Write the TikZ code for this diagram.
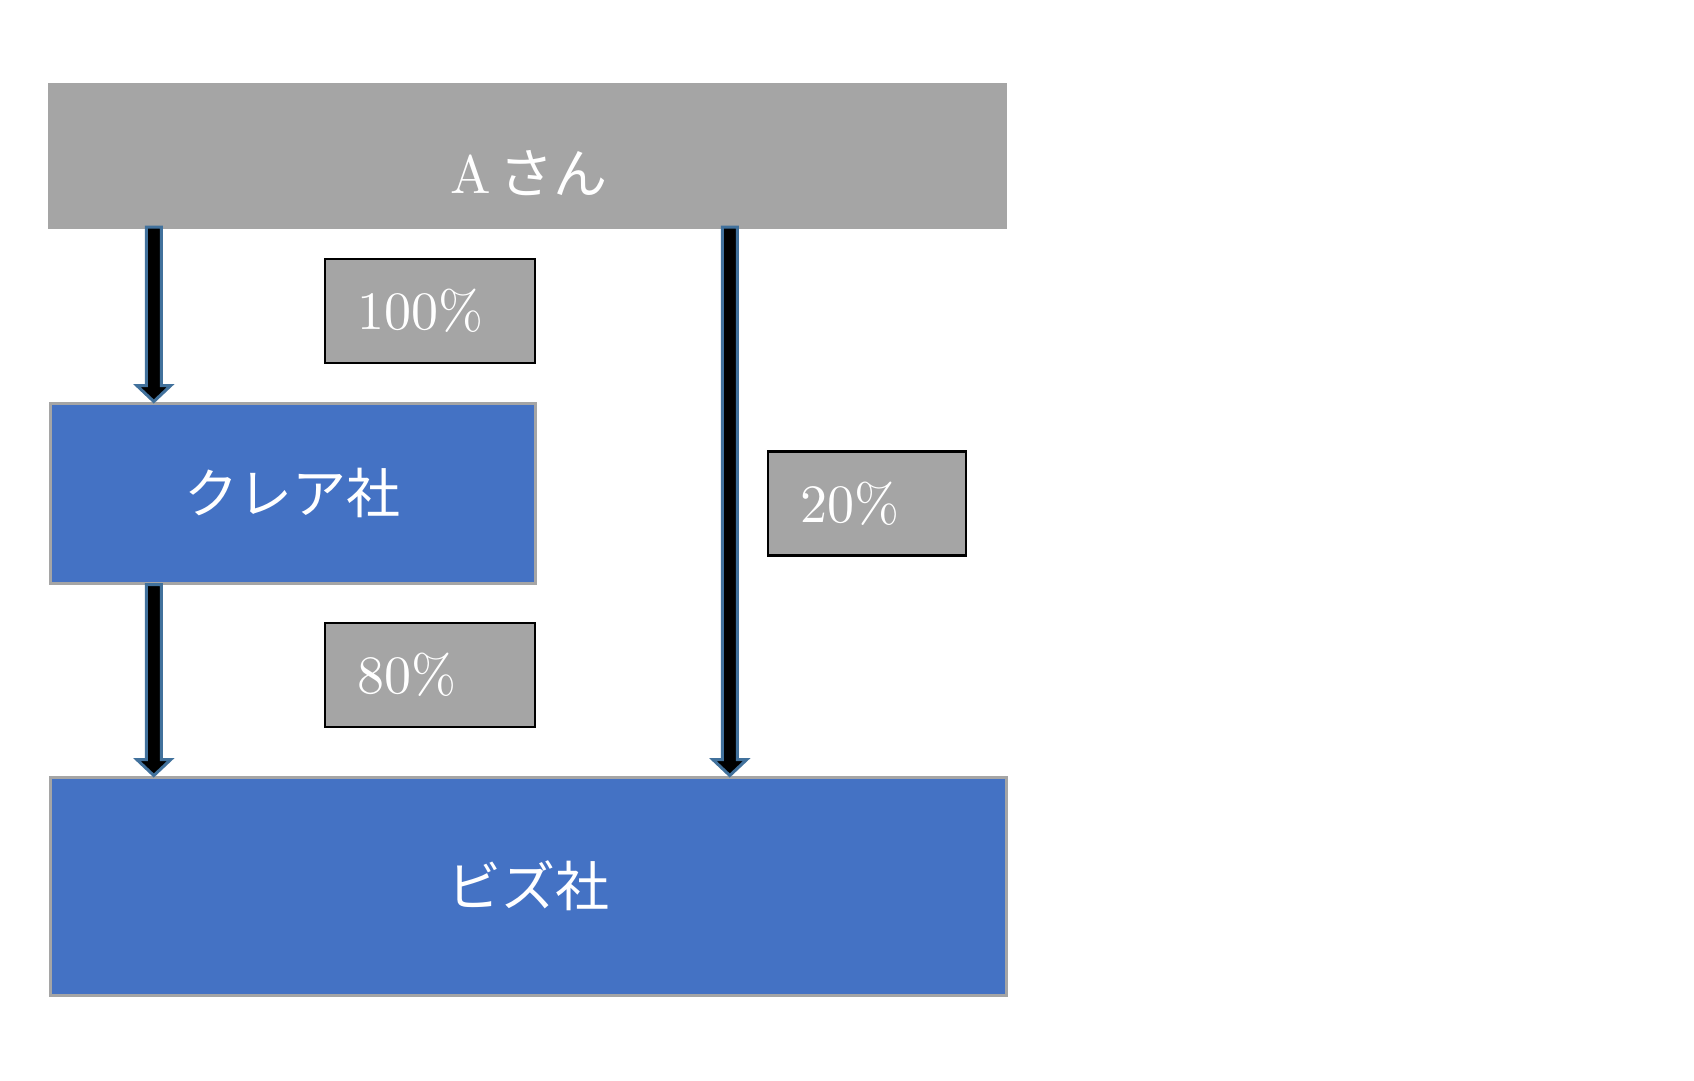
\documentclass[tikz,border=0pt]{standalone}
\usepackage{fontspec}
\setmainfont{lmroman10-regular}[Extension=.otf]
\newfontfamily\cjk{Noto Sans CJK JP}
\usetikzlibrary{calc}
\definecolor{boxgray}{RGB}{165,165,165}
\definecolor{boxblue}{RGB}{68,114,196}
\definecolor{arrowedge}{RGB}{65,113,156}
\tikzset{
  big/.style={font=\fontsize{54}{60}\selectfont, text=white},
  graybar/.style={big, fill=boxgray, draw=boxgray, inner sep=0pt},
  bluebox/.style={big, fill=boxblue, draw=boxgray, line width=3pt, inner sep=0pt},
  pctbox/.style={big, fill=boxgray, draw=black, line width=2.5pt, inner xsep=32pt, inner ysep=0pt, align=left, minimum height=104pt},
  barrow/.style={fill=black, draw=arrowedge, line width=3pt, line join=miter}
}
\newcommand\blockarrow[2]{%
  \draw[barrow] ($(#1)+(-7.5,0)$) -- ($(#2)+(-7.5,-16)$) -- ($(#2)+(-17,-16)$) -- (#2)
    -- ($(#2)+(17,-16)$) -- ($(#2)+(7.5,-16)$) -- ($(#1)+(7.5,0)$) -- cycle;}
\begin{document}
\begin{tikzpicture}[x=1pt,y=-1pt]
\useasboundingbox[fill=white] (0,0) rectangle (1694,1080);
\node[graybar, minimum width=958pt, minimum height=145pt] (a) at (527,155.5) {};
\node[big] (at) at (529,173) {A\,{\cjk さん}};
\node[bluebox, minimum width=485pt, minimum height=180pt] (clare) at (292.5,493) {{\cjk クレア社}};
\node[bluebox, minimum width=956pt, minimum height=218pt] (biz) at (528,886) {{\cjk ビズ社}};
\node[pctbox, text width=146pt] (p100) at (430,311) {100\%};
\node[pctbox, text width=146pt] (p80) at (430,675) {80\%};
\node[pctbox, text width=134pt] (p20) at (867,503.5) {20\%};
\coordinate (s1) at ($(a.south west)+(106,-1)$);
\coordinate (e1) at (s1 |- clare.north);
\coordinate (s2) at (s1 |- clare.south);
\coordinate (e2) at (s1 |- biz.north);
\coordinate (s3) at ($(a.south west)+(682,-1)$);
\coordinate (e3) at (s3 |- biz.north);
\blockarrow{s1}{e1}
\blockarrow{s2}{e2}
\blockarrow{s3}{e3}
\end{tikzpicture}
\end{document}
